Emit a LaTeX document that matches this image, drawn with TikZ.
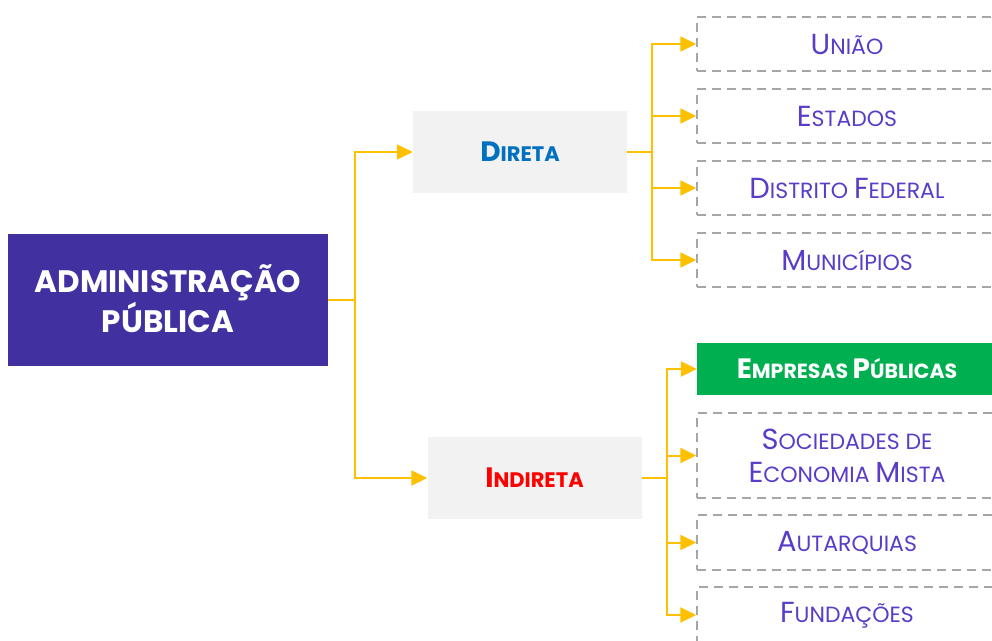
\documentclass[tikz,border=0pt]{standalone}
\usepackage{fontspec}
\setmainfont{Poppins}
\usetikzlibrary{arrows.meta}
\definecolor{mainblue}{RGB}{64,48,160}
\definecolor{boxgray}{RGB}{242,242,242}
\definecolor{dirblue}{RGB}{0,112,192}
\definecolor{indred}{RGB}{255,0,0}
\definecolor{leafgreen}{RGB}{0,176,80}
\definecolor{leaftext}{RGB}{90,60,200}
\definecolor{dashgray}{RGB}{166,166,166}
\definecolor{arrowyellow}{RGB}{255,192,0}
\newcommand\Cap[1]{{\fontsize{29}{34}\selectfont #1}}
\newcommand\CapB[1]{{\fontsize{28}{34}\selectfont #1}}
\begin{document}
\begin{tikzpicture}[x=1pt,y=-1pt,
  conn/.style={draw=arrowyellow,line width=2pt,-{Triangle[length=16pt,width=15pt]}},
  leaf/.style={draw=dashgray,dash pattern=on 9pt off 6pt,line width=1.5pt,minimum width=300pt,inner sep=0pt,text=leaftext,font=\fontsize{22}{33}\selectfont,align=center},
  mid/.style={fill=boxgray,minimum width=214pt,minimum height=82pt,inner sep=0pt,font=\bfseries\fontsize{21}{26}\selectfont},
]
\clip (0,0) rectangle (992,640);
\fill[white] (0,0) rectangle (992,640);
\node[fill=mainblue,minimum width=320pt,minimum height=132pt,inner sep=0pt,text=white,align=center,font=\bfseries\fontsize{31}{40}\selectfont] (m) at (168,300) {\raisebox{3pt}{ADMINISTRAÇÃO}\\\raisebox{3pt}{PÚBLICA}};
\node[mid,text=dirblue] (d) at (520,152) {\CapB{D}IRETA};
\node[mid,text=indred] (i) at (534.5,478) {\CapB{I}NDIRETA};
% direta leaves
\node[leaf,minimum height=54pt] (u) at (847,44) {\Cap{U}NIÃO};
\node[leaf,minimum height=54pt] (e) at (847,116) {\Cap{E}STADOS};
\node[leaf,minimum height=54pt] (df) at (847,188) {\Cap{D}ISTRITO \Cap{F}EDERAL};
\node[leaf,minimum height=54pt] (mu) at (847,260) {\Cap{M}UNICÍPIOS};
% indireta leaves
\node[fill=leafgreen,minimum width=300pt,minimum height=52pt,inner sep=0pt,text=white,font=\bfseries\fontsize{20.5}{26}\selectfont] (ep) at (847,369) {\CapB{E}MPRESAS \CapB{P}ÚBLICAS};
\node[leaf,minimum height=85pt] (sem) at (847,455.5) {\Cap{S}OCIEDADES DE\\\Cap{E}CONOMIA \Cap{M}ISTA};
\node[leaf,minimum height=55pt] (au) at (847,542.5) {\Cap{A}UTARQUIAS};
\node[leaf,minimum height=56pt] (fu) at (847,615) {\Cap{F}UNDAÇÕES};
% junction points
\coordinate (j0) at (355,300);
\coordinate (j1) at (652,152);
\coordinate (j2) at (667,478);
% connectors
\draw[conn] (m.east) -- (j0) |- (d.west);
\draw[conn] (m.east) -- (j0) |- (i.west);
\foreach \n in {u,e,df,mu} \draw[conn] (d.east) -- (j1) |- (\n.west);
\foreach \n in {ep,sem,au,fu} \draw[conn] (i.east) -- (j2) |- (\n.west);
\end{tikzpicture}
\end{document}
